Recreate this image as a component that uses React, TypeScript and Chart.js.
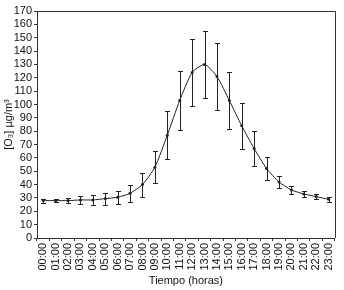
import React, { useEffect, useRef } from "react";
import { Chart, registerables } from "chart.js";

Chart.register(...registerables);

const hours = ["00:00","01:00","02:00","03:00","04:00","05:00","06:00","07:00","08:00","09:00","10:00","11:00","12:00","13:00","14:00","15:00","16:00","17:00","18:00","19:00","20:00","21:00","22:00","23:00"];
const ozoneMean = [28, 28, 28, 28.5, 28.5, 29.5, 30.5, 33.5, 40, 53, 77, 103, 124, 130, 121, 103, 84, 67, 52, 42, 36, 33, 31, 29];
const ozoneErr = [1.5, 1, 2, 3, 4, 4.5, 5, 6.5, 9, 12, 18, 22, 25, 25, 25, 21, 17, 13, 8.5, 4.5, 3, 2.5, 2, 2];
const yTicks = [0,10,20,30,40,50,60,70,80,90,100,110,120,130,140,150,160,170];

const errorBarPlugin = {
  id: "errorBars",
  afterDatasetsDraw(chart: any) {
    const { ctx, chartArea } = chart;
    const xs = chart.scales.x;
    const ys = chart.scales.y;
    ctx.save();
    ctx.strokeStyle = "#222";
    ctx.lineWidth = 1;
    ozoneMean.forEach((m, i) => {
      const x = Math.round(xs.getPixelForValue(i)) + 0.5;
      const yt = Math.round(ys.getPixelForValue(m + ozoneErr[i])) + 0.5;
      const yb = Math.round(ys.getPixelForValue(m - ozoneErr[i])) + 0.5;
      ctx.beginPath();
      ctx.moveTo(x, yt); ctx.lineTo(x, yb);
      ctx.moveTo(x - 2.5, yt); ctx.lineTo(x + 2.5, yt);
      ctx.moveTo(x - 2.5, yb); ctx.lineTo(x + 2.5, yb);
      ctx.stroke();
    });
    ctx.strokeStyle = "#333";
    ctx.beginPath();
    ctx.moveTo(chartArea.left, Math.round(chartArea.top) + 0.5);
    ctx.lineTo(Math.round(chartArea.right) + 0.5, Math.round(chartArea.top) + 0.5);
    ctx.lineTo(Math.round(chartArea.right) + 0.5, chartArea.bottom);
    ctx.stroke();
    ctx.restore();
  },
};

export default function App() {
  const ref = useRef<HTMLCanvasElement>(null);
  useEffect(() => {
    document.body.style.margin = "0";
    const font = { family: "'Liberation Sans', Arial, sans-serif", size: 11 };
    const chart = new Chart(ref.current!, {
      type: "line",
      data: {
        labels: hours,
        datasets: [{
          data: ozoneMean,
          borderColor: "#222",
          backgroundColor: "#222",
          borderWidth: 1,
          pointRadius: 1.5,
          pointBorderWidth: 0,
          tension: 0.2,
        }],
      },
      options: {
        animation: false,
        responsive: false,
        layout: { padding: { top: 11, right: 9, left: 2, bottom: 0 } },
        plugins: { legend: { display: false }, tooltip: { enabled: false } },
        scales: {
          x: {
            type: "category",
            offset: true,
            grid: { display: true, offset: true, drawOnChartArea: false, tickLength: 3, color: "#333" },
            border: { color: "#333", width: 1 },
            ticks: { color: "#111", font, maxRotation: 90, minRotation: 90, autoSkip: false, padding: 2 },
            title: { display: true, text: "Tiempo (horas)", color: "#111", font, padding: { top: 2, bottom: 2 } },
            afterFit: (s: any) => { s.height = 52; },
          },
          y: {
            min: 0,
            max: 170,
            afterBuildTicks: (s: any) => { s.ticks = yTicks.map((v) => ({ value: v })); },
            grid: { display: true, drawOnChartArea: false, tickLength: 3, color: "#333" },
            border: { color: "#333", width: 1 },
            ticks: { color: "#111", font, padding: 2, autoSkip: false },
            title: { display: true, text: "[O₃] µg/m³", color: "#111", font, padding: { top: 0, bottom: 0 } },
            afterFit: (s: any) => { s.width = 35; },
          },
        },
      },
      plugins: [errorBarPlugin],
    });
    return () => chart.destroy();
  }, []);
  return (
    <div style={{ width: 344, height: 290, background: "#fff" }}>
      <canvas ref={ref} width={344} height={290} style={{ display: "block" }} />
    </div>
  );
}
